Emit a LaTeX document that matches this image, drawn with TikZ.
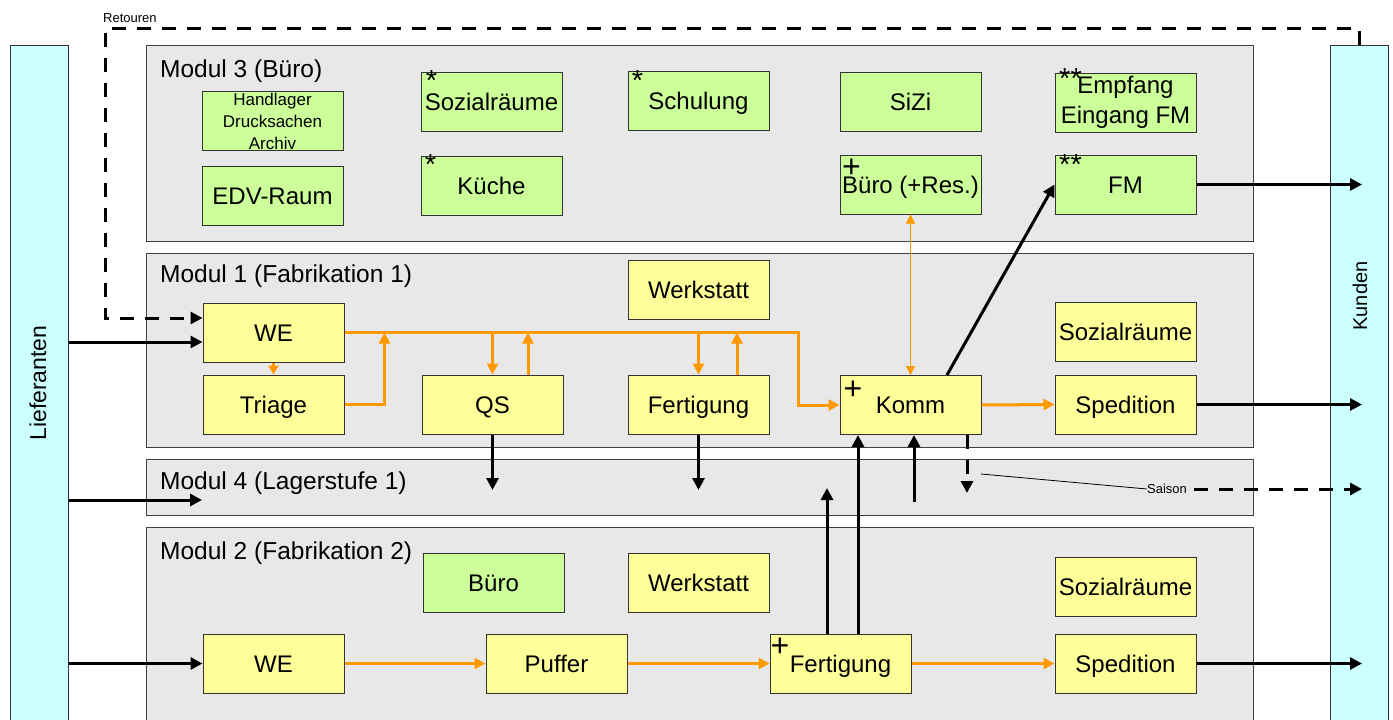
\documentclass[tikz,border=0pt]{standalone}
\usepackage{fontspec}
\setmainfont{Liberation Sans}
\usetikzlibrary{arrows.meta}
\definecolor{panelgray}{HTML}{E8E8E8}
\definecolor{boxyellow}{HTML}{FFFF99}
\definecolor{boxgreen}{HTML}{CCFF99}
\definecolor{barcyan}{HTML}{CCFFFF}
\definecolor{orng}{HTML}{FF9900}
\begin{document}
\begin{tikzpicture}[x=1pt,y=-1pt,
  panel/.style={draw=black!75, line width=1pt, fill=panelgray, inner sep=0pt},
  box/.style={draw=black!80, line width=1pt, minimum width=141pt, minimum height=59pt, inner sep=0pt,
    font=\fontsize{24}{29}\selectfont, align=center, text height=17pt, text depth=0pt},
  ybox/.style={box, fill=boxyellow},
  gbox/.style={box, fill=boxgreen},
  bar/.style={draw=black!80, line width=1pt, fill=barcyan, minimum width=58pt, minimum height=695pt, inner sep=0pt},
  lbl/.style={font=\fontsize{24.5}{29}\selectfont, anchor=west, inner sep=0pt, text height=17pt, text depth=0pt},
  mk/.style={font=\fontsize{29}{29}\selectfont, inner sep=0pt},
  pl/.style={font=\fontsize{32}{32}\selectfont, inner sep=0pt},
  small/.style={font=\fontsize{13}{13}\selectfont, inner sep=0pt},
  blk/.style={line width=3pt, draw=black, -{Triangle[length=12pt,width=12pt]}},
  org/.style={line width=3pt, draw=orng, -{Triangle[length=11pt,width=11pt]}},
  dsh/.style={blk, dash pattern=on 14pt off 11pt},
]
\useasboundingbox (0,0) rectangle (1393,720);
\clip (0,0) rectangle (1393,720);
\fill[white] (0,0) rectangle (1393,720);

% side bars
\node[bar] (lief) at (39,392.5) {};
\node[bar] (kun) at (1359,392.5) {};
\node[rotate=90, font=\fontsize{23}{23}\selectfont, inner sep=0pt] (lieft) at (38,383) {Lieferanten};
\node[rotate=90, font=\fontsize{20}{20}\selectfont, inner sep=0pt] (kunt) at (1360,296) {Kunden};

% panels
\node[panel, minimum width=1107pt, minimum height=196pt] (m3) at (699.5,143) {};
\node[panel, minimum width=1107pt, minimum height=194pt] (m1) at (699.5,350) {};
\node[panel, minimum width=1107pt, minimum height=56pt] (m4) at (699.5,487) {};
\node[panel, minimum width=1107pt, minimum height=213pt] (m2) at (699.5,633.5) {};
\node[lbl] (m3l) at (160,69) {Modul 3 (Büro)};
\node[lbl] (m1l) at (160,274) {Modul 1 (Fabrikation 1)};
\node[lbl] (m4l) at (160,481) {Modul 4 (Lagerstufe 1)};
\node[lbl] (m2l) at (160,551) {Modul 2 (Fabrikation 2)};

% Modul 3
\node[gbox, font=\fontsize{17}{22}\selectfont, text height=, text depth=] (hand) at (272.5,121) {Handlager\\Drucksachen\\Archiv};
\node[gbox] (edv) at (272.5,195.5) {EDV-Raum};
\node[gbox] (soz3) at (491.5,101.5) {Sozialräume};
\node[gbox] (kueche) at (491.5,185.5) {Küche};
\node[gbox] (schul) at (698.5,100.5) {Schulung};
\node[gbox] (sizi) at (910.5,101.5) {SiZi};
\node[gbox, font=\fontsize{24}{30}\selectfont, text height=, text depth=] (empf) at (1125.5,102.5) {Empfang\\Eingang FM};
\node[gbox] (buero3) at (910.5,184.5) {Büro (+Res.)};
\node[gbox] (fm) at (1125.5,184.5) {FM};

% Modul 1
\node[ybox] (werk1) at (698.5,290) {Werkstatt};
\node[ybox] (we1) at (273.5,332.5) {WE};
\node[ybox] (triage) at (273.5,404.5) {Triage};
\node[ybox] (qs) at (492.5,404.5) {QS};
\node[ybox] (fert1) at (698.5,404.5) {Fertigung};
\node[ybox] (komm) at (910.5,405) {Komm};
\node[ybox] (soz1) at (1125.5,331.5) {Sozialräume};
\node[ybox] (sped1) at (1125.5,404.5) {Spedition};

% Modul 2
\node[gbox] (buero2) at (493.5,582.5) {Büro};
\node[ybox] (werk2) at (698.5,582.5) {Werkstatt};
\node[ybox] (soz2) at (1125.5,586.5) {Sozialräume};
\node[ybox] (we2) at (273.5,663.5) {WE};
\node[ybox] (puffer) at (556.5,663.5) {Puffer};
\node[ybox] (fert2) at (840.5,663.5) {Fertigung};
\node[ybox] (sped2) at (1125.5,663.5) {Spedition};

% marks
\node[mk] (mk1) at ([xshift=11pt,yshift=-9.5pt]soz3.north west) {*};
\node[mk] (mk2) at ([xshift=10pt,yshift=-9pt]kueche.north west) {*};
\node[mk] (mk3) at ([xshift=10pt,yshift=-10pt]schul.north west) {*};
\node[mk] (mk4) at ([xshift=16pt,yshift=-6pt]empf.north west) {**};
\node[mk] (mk5) at ([xshift=16pt,yshift=-10pt]fm.north west) {**};
\node[pl] (pl1) at ([xshift=12pt,yshift=-14pt]buero3.north west) {+};
\node[pl] (pl2) at ([xshift=13.5pt,yshift=-15pt]komm.north west) {+};
\node[pl] (pl3) at ([xshift=10.5pt,yshift=-13.5pt]fert2.north west) {+};

% coordinates
\coordinate (kx) at (1362,0);
\coordinate (s4) at (0,490);
\coordinate (lin1) at ([yshift=-9.5pt]we1.west);
\coordinate (wein) at ([yshift=14.5pt]we1.west);
\coordinate (l4) at (202,500);
\coordinate (r1) at (1359,28);
\coordinate (r2) at (105,28);

% Retouren
\node[small, anchor=west] (ret) at (103,18) {Retouren};
\draw[dsh] (kun.north) -- (r1) -- (r2) -- (r2 |- wein) -- (wein);

% Lieferanten inputs
\draw[blk] (lief.east |- lin1) -- (lin1);
\draw[blk] (lief.east |- l4) -- (l4);
\draw[blk] (lief.east |- we2.west) -- (we2.west);

% outputs to Kunden
\draw[blk] (fm.east) -- (kx |- fm.east);
\draw[blk] (sped1.east) -- (kx |- sped1.east);
\draw[blk] (sped2.east) -- (kx |- sped2.east);

% orange flows Modul 1
\draw[org] (we1.east) -| ([xshift=-41pt]komm.west) -- (komm.west);
\draw[org] (triage.east) -| ([xshift=40pt]we1.east);
\draw[org, -{Triangle[length=9pt,width=10pt]}] (we1.south) -- (triage.north);
\coordinate (qsu) at ([xshift=35.5pt]qs.north);
\draw[org] (qs.north |- we1.east) -- (qs.north);
\draw[org] (qsu) -- (qsu |- we1.east);
\coordinate (fu) at ([xshift=38.5pt]fert1.north);
\draw[org] (fert1.north |- we1.east) -- (fert1.north);
\draw[org] (fu) -- (fu |- we1.east);
\draw[org] (komm.east) -- (sped1.west);
\draw[line width=1pt, draw=orng, {Triangle[length=9pt,width=9pt]}-{Triangle[length=9pt,width=9pt]}] (buero3.south) -- (komm.north);

% black flows
\draw[blk] ([xshift=36.5pt]komm.north) -- (fm.west);
\draw[blk] (qs.south) -- (qs.south |- s4);
\draw[blk] (fert1.south) -- (fert1.south |- s4);
\coordinate (f2a) at ([xshift=-13.5pt]fert2.north);
\coordinate (f2b) at ([xshift=17.5pt]fert2.north);
\coordinate (m4k) at (914,502);
\draw[blk] (f2a) -- (f2a |- 0,488);
\draw[blk] (f2b) -- (f2b |- komm.south);
\draw[blk] (m4k) -- (m4k |- komm.south);

% Saison
\coordinate (sv) at ([xshift=56.5pt]komm.south);
\draw[dsh] (sv) -- (sv |- 0,493);
\node[small, anchor=west] (sai) at (1147,489) {Saison};
\draw[line width=0.8pt] (981,474) -- (sai.west);
\draw[dsh] ([xshift=7pt]sai.east) -- (kx |- sai.east);

% orange flows Modul 2
\draw[org] (we2.east) -- (puffer.west);
\draw[org] (puffer.east) -- (fert2.west);
\draw[org] (fert2.east) -- (sped2.west);
\end{tikzpicture}
\end{document}
